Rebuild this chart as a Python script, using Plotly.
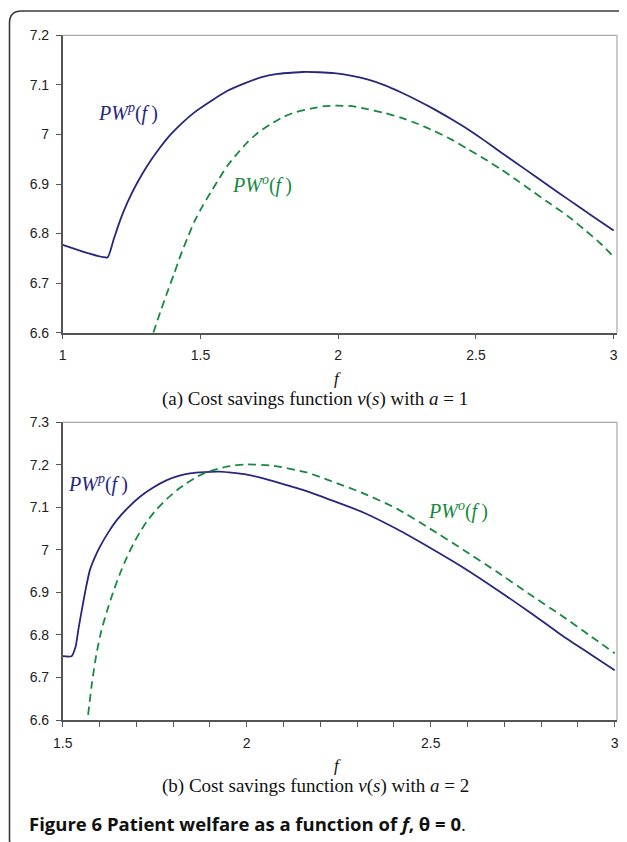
import plotly.graph_objects as go

# ---------------- data ----------------
# Panel (a): a = 1
f_pwp_a = [1.0, 1.065, 1.126, 1.163, 1.186, 1.21, 1.235, 1.27, 1.307, 1.35, 1.392, 1.435,
           1.477, 1.54, 1.598, 1.66, 1.719, 1.78, 1.84, 1.87, 1.93, 1.985, 2.05, 2.106,
           2.17, 2.227, 2.29, 2.348, 2.41, 2.469, 2.53, 2.59, 2.65, 2.711, 2.77, 2.832,
           2.9, 2.95, 3.0]
pwp_a = [6.777, 6.765, 6.755, 6.752, 6.79, 6.829, 6.863, 6.902, 6.937, 6.971, 7.0, 7.024,
         7.044, 7.068, 7.088, 7.103, 7.115, 7.122, 7.125, 7.126, 7.1255, 7.1236, 7.118, 7.111,
         7.099, 7.085, 7.068, 7.051, 7.031, 7.011, 6.988, 6.964, 6.941, 6.917, 6.894, 6.87,
         6.844, 6.825, 6.806]

f_pwo_a = [1.329, 1.355, 1.38, 1.405, 1.428, 1.452, 1.477, 1.507, 1.537, 1.568, 1.598,
           1.635, 1.67, 1.71, 1.755, 1.8, 1.84, 1.9, 1.95, 2.0, 2.05, 2.106, 2.17, 2.227,
           2.29, 2.348, 2.41, 2.469, 2.53, 2.59, 2.65, 2.711, 2.77, 2.832, 2.9, 2.95, 3.0]
pwo_a = [6.6, 6.643, 6.682, 6.72, 6.756, 6.79, 6.823, 6.855, 6.883, 6.911, 6.937,
         6.962, 6.984, 7.004, 7.021, 7.035, 7.044, 7.052, 7.057, 7.058, 7.057, 7.051, 7.043,
         7.034, 7.021, 7.007, 6.99, 6.971, 6.951, 6.93, 6.907, 6.883, 6.86, 6.836, 6.805,
         6.781, 6.753]

# Panel (b): a = 2
f_pwp_b = [1.5, 1.524, 1.535, 1.543, 1.552, 1.563, 1.574, 1.587, 1.601, 1.623, 1.647, 1.677,
           1.71, 1.745, 1.783, 1.815, 1.846, 1.885, 1.927, 1.965, 2.0, 2.045, 2.09, 2.163,
           2.226, 2.317, 2.408, 2.498, 2.589, 2.679, 2.77, 2.86, 2.93, 3.0]
pwp_b = [6.75, 6.75, 6.772, 6.815, 6.859, 6.91, 6.953, 6.982, 7.007, 7.04, 7.07, 7.099,
         7.125, 7.146, 7.164, 7.174, 7.18, 7.183, 7.184, 7.181, 7.177, 7.168, 7.157, 7.138,
         7.118, 7.088, 7.049, 7.005, 6.958, 6.907, 6.853, 6.797, 6.757, 6.717]

f_pwo_b = [1.569, 1.58, 1.592, 1.605, 1.62, 1.638, 1.656, 1.674, 1.692, 1.71, 1.728, 1.755,
           1.783, 1.81, 1.837, 1.865, 1.891, 1.946, 2.0, 2.072, 2.163, 2.226, 2.317, 2.408,
           2.498, 2.589, 2.679, 2.77, 2.86, 2.93, 3.0]
pwo_b = [6.612, 6.69, 6.757, 6.81, 6.855, 6.903, 6.945, 6.982, 7.014, 7.042, 7.066, 7.095,
         7.12, 7.14, 7.157, 7.172, 7.183, 7.196, 7.201, 7.198, 7.182, 7.163, 7.133, 7.097,
         7.05, 7.0, 6.949, 6.895, 6.843, 6.8, 6.757]

xticks_a = [1, 1.5, 2, 2.5, 3]
xticklabels_a = ["1", "1.5", "2", "2.5", "3"]
xticks_b = [1.5, 2, 2.5, 3]
xticklabels_b = ["1.5", "2", "2.5", "3"]
yticks_a = [6.6, 6.7, 6.8, 6.9, 7.0, 7.1, 7.2]
yticklabels_a = ["6.6", "6.7", "6.8", "6.9", "7", "7.1", "7.2"]
yticks_b = [6.6, 6.7, 6.8, 6.9, 7.0, 7.1, 7.2, 7.3]
yticklabels_b = ["6.6", "6.7", "6.8", "6.9", "7", "7.1", "7.2", "7.3"]

caption_a = "(a) Cost savings function <i>v</i>(<i>s</i>) with <i>a</i> = 1"
caption_b = "(b) Cost savings function <i>v</i>(<i>s</i>) with <i>a</i> = 2"
fig_caption = "<b>Figure 6 Patient welfare as a function of <i>f</i>, θ = 0</b>."

# ---------------- styling ----------------
W, H = 627, 842
OFF = 8  # page body margin in the browser
BLUE = "#27277d"
GREEN = "#17893f"
AX = "#555555"
LIGHT = "#a8a8a8"
TICKFONT = dict(family="Liberation Sans, Arial, sans-serif", size=14, color="#222222")
SERIF = "Liberation Serif, Times New Roman, serif"


def px(x):
    return (x - OFF) / W


def py(y):
    return 1 - (y - OFF) / H


fig = go.Figure()

line_solid = dict(color=BLUE, width=1.8, shape="spline", smoothing=0.5)
line_dash = dict(color=GREEN, width=1.8, dash="8px,5px", shape="spline", smoothing=0.5)

fig.add_trace(go.Scatter(x=f_pwp_a, y=pwp_a, mode="lines", line=line_solid, xaxis="x", yaxis="y"))
fig.add_trace(go.Scatter(x=f_pwo_a, y=pwo_a, mode="lines", line=line_dash, xaxis="x", yaxis="y"))
fig.add_trace(go.Scatter(x=f_pwp_b, y=pwp_b, mode="lines", line=line_solid, xaxis="x2", yaxis="y2"))
fig.add_trace(go.Scatter(x=f_pwo_b, y=pwo_b, mode="lines", line=line_dash, xaxis="x2", yaxis="y2"))

# plot area pixel geometry (target screen pixels)
L, R = 62.7, 617.0
TOP_A, BOT_A = 35.3, 332.7
TOP_B, BOT_B = 422.3, 720.0

common = dict(showgrid=False, zeroline=False, showline=True, linecolor=AX, linewidth=1.5,
              ticks="outside", ticklen=5, tickcolor=AX, tickwidth=1, tickfont=TICKFONT,
              ticklabelstandoff=4, automargin=False)

fig.update_layout(
    width=W, height=H,
    margin=dict(l=0, r=0, t=0, b=0, autoexpand=False),
    paper_bgcolor="white", plot_bgcolor="white",
    showlegend=False,
    xaxis=dict(common, domain=[px(L), px(R)], range=[1, 1 + (R - L) / 275.5],
               tickvals=xticks_a, ticktext=xticklabels_a, anchor="y"),
    yaxis=dict(common, domain=[py(BOT_A), py(TOP_A)], range=[6.6, 7.2],
               tickvals=yticks_a, ticktext=yticklabels_a, anchor="x"),
    xaxis2=dict(common, domain=[px(L), px(R)], range=[1.5, 1.5 + (R - L) / 368.0],
                tickvals=xticks_b, ticktext=xticklabels_b, anchor="y2",
                minor=dict(ticks="outside", ticklen=5, tickcolor=AX, dtick=0.1, tick0=1.5)),
    yaxis2=dict(common, domain=[py(BOT_B), py(TOP_B)], range=[6.6, 7.3],
                tickvals=yticks_b, ticktext=yticklabels_b, anchor="x2"),
)

shapes = []
# light top/right borders of each plot box
for xa, ya in (("x", "y"), ("x2", "y2")):
    shapes.append(dict(type="line", xref=f"{xa} domain", yref=f"{ya} domain",
                       x0=0, x1=1, y0=1, y1=1, line=dict(color=LIGHT, width=1.2)))
    shapes.append(dict(type="line", xref=f"{xa} domain", yref=f"{ya} domain",
                       x0=1, x1=1, y0=0, y1=1, line=dict(color=LIGHT, width=1.2)))

# rounded outer frame
fx0, fy0, fx1, fy1, r = 9.5, 11, 638, 852, 12
path = (f"M {px(fx0)},{py(fy1 - r)} L {px(fx0)},{py(fy0 + r)} "
        f"Q {px(fx0)},{py(fy0)} {px(fx0 + r)},{py(fy0)} "
        f"L {px(fx1 - r)},{py(fy0)} Q {px(fx1)},{py(fy0)} {px(fx1)},{py(fy0 + r)} "
        f"L {px(fx1)},{py(fy1 - r)} Q {px(fx1)},{py(fy1)} {px(fx1 - r)},{py(fy1)} "
        f"L {px(fx0 + r)},{py(fy1)} Q {px(fx0)},{py(fy1)} {px(fx0)},{py(fy1 - r)} Z")
shapes.append(dict(type="path", xref="paper", yref="paper", path=path,
                   line=dict(color="#3a3a3a", width=1.6)))
fig.update_layout(shapes=shapes)


def ann(text, x, y, size, color="#111111", family=SERIF, xanchor="center"):
    fig.add_annotation(text=text, x=px(x), y=py(y), xref="paper", yref="paper",
                       xanchor=xanchor, yanchor="middle", showarrow=False,
                       font=dict(family=family, size=size, color=color))


pwp_label = "<i>PW</i><sup><i>p</i></sup>(<i>f</i>\u2009)"
pwo_label = "<i>PW</i><sup><i>o</i></sup>(<i>f</i>\u2009)"
ann(pwp_label, 128, 113, 20, BLUE)
ann(pwo_label, 262, 184, 20, GREEN)
ann(pwp_label, 98, 483, 20, BLUE)
ann(pwo_label, 458, 510, 20, GREEN)

ann("<i>f</i>", 337, 378, 17)
ann(caption_a, 315, 399, 19)
ann("<i>f</i>", 337, 765, 17)
ann(caption_b, 315, 786, 19)
ann(fig_caption, 27, 823, 18.5, "#111111", "Open Sans, Lato, sans-serif", xanchor="left")

fig.write_html("out.html")
